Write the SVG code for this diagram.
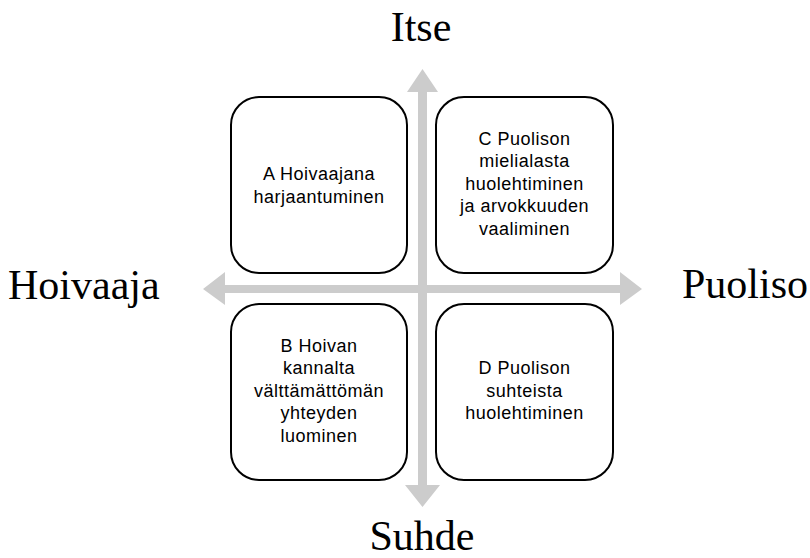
<svg xmlns="http://www.w3.org/2000/svg" width="810" height="558" viewBox="0 0 810 558">
<style>
.box{fill:#fff;stroke:#000;stroke-width:2}
.t{font-family:"Liberation Sans",Arial,sans-serif;font-size:18px;letter-spacing:0.5px;fill:#000;text-anchor:middle}
.ax{font-family:"Liberation Serif","Times New Roman",serif;font-size:42px;fill:#000}
.arr{fill:#cccccc}
</style>
<rect width="810" height="558" fill="#fff"/>
<g id="connectors">
<path class="arr" d="M418,92 L407,92 L422.5,69 L438,92 L427,92 L427,485 L440,485 L422.5,507 L405,485 L418,485 Z"/>
<path class="arr" d="M225,285 L225,272 L203,289 L225,305 L225,293 L620,293 L620,305 L642,289 L620,272 L620,285 Z"/>
</g>
<g id="A"><rect class="box" x="231" y="97" width="176" height="176" rx="28"/>
<text class="t" x="319" y="180">A Hoivaajana</text><text class="t" x="319" y="203">harjaantuminen</text></g>
<g id="C"><rect class="box" x="436" y="97" width="177" height="176" rx="28"/>
<text class="t" x="524.5" y="145">C Puolison</text><text class="t" x="524.5" y="167">mielialasta</text><text class="t" x="524.5" y="190">huolehtiminen</text><text class="t" x="524.5" y="212">ja arvokkuuden</text><text class="t" x="524.5" y="235">vaaliminen</text></g>
<g id="B"><rect class="box" x="231" y="304" width="176" height="176" rx="28"/>
<text class="t" x="319" y="352">B Hoivan</text><text class="t" x="319" y="374">kannalta</text><text class="t" x="319" y="397">välttämättömän</text><text class="t" x="319" y="419">yhteyden</text><text class="t" x="319" y="442">luominen</text></g>
<g id="D"><rect class="box" x="436" y="304" width="177" height="176" rx="28"/>
<text class="t" x="524.5" y="374">D Puolison</text><text class="t" x="524.5" y="397">suhteista</text><text class="t" x="524.5" y="419">huolehtiminen</text></g>
<g id="labels">
<text class="ax" x="421" y="41" text-anchor="middle">Itse</text>
<text class="ax" x="8" y="299">Hoivaaja</text>
<text class="ax" x="682" y="298">Puoliso</text>
<text class="ax" x="422" y="550" text-anchor="middle">Suhde</text>
</g>
</svg>
